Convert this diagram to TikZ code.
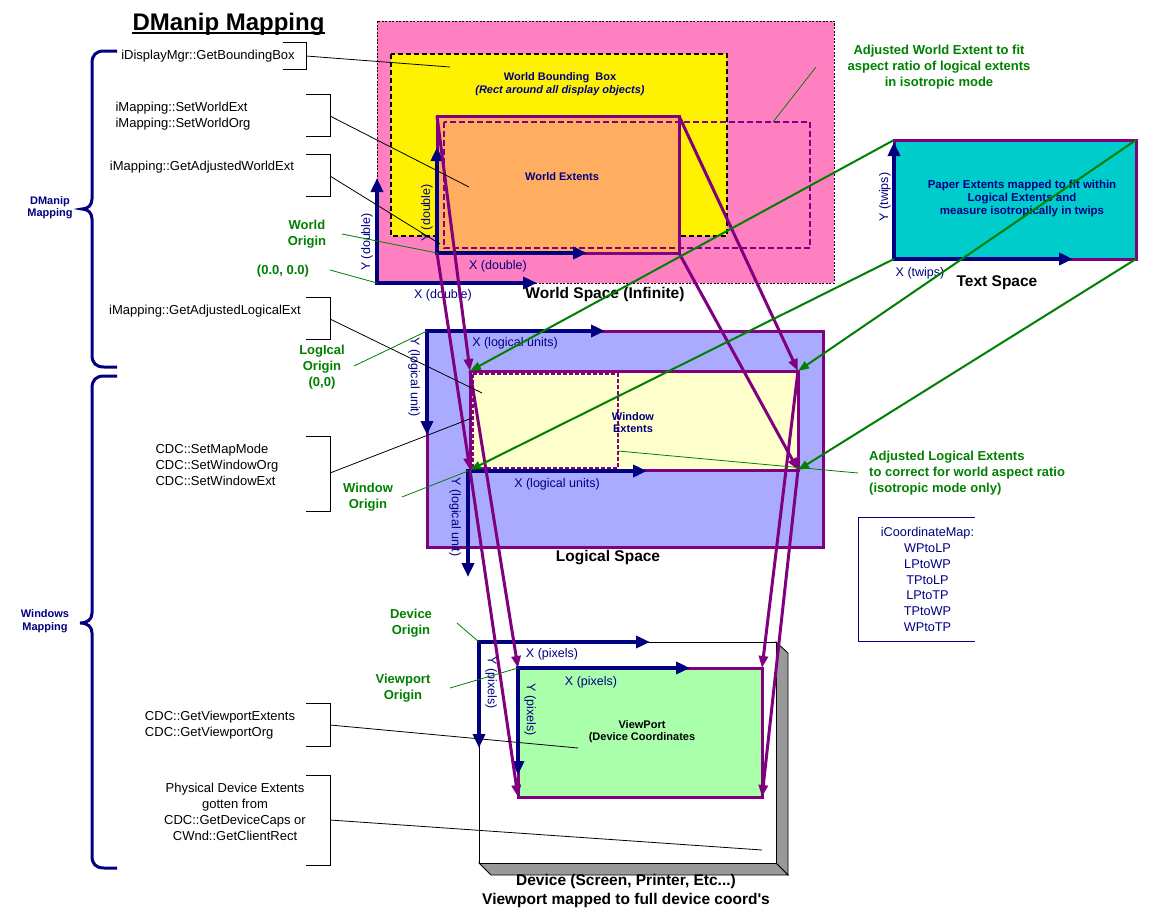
\documentclass[tikz,border=0pt]{standalone}
\usepackage{fontspec}
\setmainfont{Liberation Sans}[Ligatures=TeXOff]
\usetikzlibrary{arrows.meta}
\definecolor{navy}{RGB}{0,0,128}
\definecolor{purp}{RGB}{128,0,128}
\definecolor{grn}{RGB}{0,128,0}
\definecolor{pinkfill}{RGB}{255,128,192}
\definecolor{orangefill}{RGB}{255,173,96}
\definecolor{cyanfill}{RGB}{0,204,204}
\definecolor{lavfill}{RGB}{170,170,255}
\definecolor{ltyellow}{RGB}{255,255,204}
\definecolor{ltgreen}{RGB}{170,255,170}
\definecolor{shadowgray}{RGB}{153,153,153}
\begin{document}
\begin{tikzpicture}[x=1pt,y=-1pt,
  meth/.style={font=\fontsize{13}{16}\selectfont, inner sep=0pt, align=left},
  grnlbl/.style={font=\fontsize{13}{16}\selectfont\bfseries, text=grn, inner sep=0pt, align=center},
  navylbl/.style={font=\fontsize{11}{13}\selectfont\bfseries, text=navy, inner sep=0pt, align=center},
  blacklbl/.style={font=\fontsize{11}{12}\selectfont\bfseries, inner sep=0pt, align=center},
  axlbl/.style={font=\fontsize{12.5}{14}\selectfont, text=navy, inner sep=0pt},
  maplbl/.style={font=\fontsize{12.7}{15.8}\selectfont, text=navy, inner sep=0pt, align=center},
  spacelbl/.style={font=\fontsize{15.5}{19}\selectfont\bfseries, inner sep=0pt, align=center},
  axisarrow/.style={draw=navy, line width=4.5pt, line cap=rect, -{Triangle[length=14pt,width=12pt]}},
  maparrow/.style={draw=purp, line width=3pt, -{Triangle[length=12pt,width=9pt]}},
  grnarrow/.style={draw=grn, line width=2pt, -{Triangle[length=11pt,width=8pt]}},
  leader/.style={draw=black, line width=0.8pt},
  gleader/.style={draw=grn, line width=0.8pt},
  bracket/.style={draw=black, line width=1pt},
  bracestyle/.style={draw=navy, line width=3pt},
  boxborder/.style={draw=purp, line width=3pt},
]
\fill[white] (0,0) rectangle (1173,918);
\useasboundingbox (0,0) rectangle (1173,918);

% title
\node[font=\fontsize{24}{28}\selectfont\bfseries, inner sep=0pt, anchor=base] (title) at (228.5,30) {DManip Mapping};
\draw[line width=2.5pt] (132,33) -- (325,33);

% braces
\draw[bracestyle] (117,51) -- (104,51) .. controls (96,51) and (92,55) .. (92,63) -- (92,199) .. controls (92,205) and (88,209) .. (82,209) .. controls (88,209) and (92,213) .. (92,219) -- (92,355) .. controls (92,363) and (96,367) .. (104,367) -- (117,367);
\draw[bracestyle] (117,376) -- (104,376) .. controls (96,376) and (92,380) .. (92,388) -- (92,613) .. controls (92,619) and (88,623) .. (80,623) .. controls (88,623) and (92,627) .. (92,633) -- (92,856) .. controls (92,864) and (96,868) .. (104,868) -- (117,868);
\node[navylbl, font=\fontsize{11}{12}\selectfont\bfseries] (dml) at (50,208) {DManip\\Mapping};
\node[navylbl, font=\fontsize{11}{13}\selectfont\bfseries] (wml) at (45,621) {Windows\\Mapping};

% ---------- World space ----------
\coordinate (wsTL) at (377,21);
\coordinate (wsBR) at (834,283);
\draw[fill=pinkfill, dash pattern=on 2pt off 1.5pt, line width=0.7pt] (wsTL) rectangle (wsBR);
\draw[fill=yellow, dash pattern=on 5pt off 3pt, line width=2pt] (391,54) rectangle (727,236);
\coordinate (wTL) at (437,116);
\coordinate (wTR) at (679,116);
\coordinate (wBL) at (437,253);
\coordinate (wBR) at (679,253);
\draw[fill=orangefill, boxborder] (wTL) rectangle (wBR);
\draw[purp, line width=2pt, dash pattern=on 6pt off 3pt] (444,122) rectangle (810,248);
\node[navylbl] (wbb) at (560,84.5) {World Bounding\ \ Box\\\textit{(Rect around all display objects)}};
\node[navylbl] (wext) at (562,177) {World Extents};
\coordinate (wo1) at (377,283);
\coordinate (wo1x) at (537,283);
\coordinate (wo1y) at (377,178);
\draw[axisarrow] (wo1) -- (wo1x);
\draw[axisarrow] (wo1) -- (wo1y);
\coordinate (wo2x) at (587,253);
\coordinate (wo2y) at (437,147);
\draw[axisarrow] (wBL) -- (wo2x);
\draw[axisarrow] (wBL) -- (wo2y);
\node[axlbl, rotate=90] (ly1) at (367,242) {Y (double)};
\node[axlbl] (lx1) at (443,295) {X (double)};
\node[axlbl, rotate=90] (ly2) at (427,213) {Y (double)};
\node[axlbl] (lx2) at (498,266) {X (double)};
\node[spacelbl] (wsl) at (605,294) {World Space (Infinite)};

% ---------- Text space ----------
\coordinate (tTL) at (894,140);
\coordinate (tTR) at (1136,140);
\coordinate (tBL) at (894,259);
\coordinate (tBR) at (1136,259);
\draw[fill=cyanfill, boxborder] (tTL) rectangle (tBR);
\coordinate (tox) at (1073,259);
\coordinate (toy) at (894,142);
\draw[axisarrow] (tBL) -- (tox);
\draw[axisarrow] (tBL) -- (toy);
\node[navylbl, font=\fontsize{11.5}{13}\selectfont\bfseries] (pext) at (1022,199) {Paper Extents mapped to fit within\\Logical Extents and\\measure isotropically in twips};
\node[axlbl, rotate=90] (lyt) at (885,197) {Y (twips)};
\node[axlbl] (lxt) at (920,273) {X (twips)};
\node[spacelbl] (tsl) at (997,283) {Text Space};

% ---------- Logical space ----------
\coordinate (lsTL) at (427,331);
\coordinate (lsBR) at (823,547);
\draw[fill=lavfill, boxborder] (lsTL) rectangle (lsBR);
\coordinate (lTL) at (470,371);
\coordinate (lTR) at (798,371);
\coordinate (lBL) at (470,470);
\coordinate (lBR) at (798,470);
\draw[fill=ltyellow, boxborder] (lTL) rectangle (lBR);
\draw[purp, line width=2pt, dash pattern=on 4pt off 2pt] (473,374) rectangle (618,468);
\node[navylbl, font=\fontsize{11}{12}\selectfont\bfseries] (wex) at (633,423) {Window\\Extents};
\coordinate (lsx) at (605,331);
\coordinate (lsy) at (427,435);
\draw[axisarrow] (lsTL) -- (lsx);
\draw[axisarrow] (lsTL) -- (lsy);
\coordinate (lwo) at (468,471);
\coordinate (lwx) at (647,471);
\coordinate (lwy) at (468,577);
\draw[axisarrow] (lwo) -- (lwx);
\draw[axisarrow] (lwo) -- (lwy);
\node[axlbl] (llx1) at (515,343) {X (logical units)};
\node[axlbl, rotate=-90] (lly1) at (414,377) {Y (logical unit)};
\node[axlbl] (llx2) at (557,484) {X (logical units)};
\node[axlbl, rotate=-90] (lly2) at (455,517) {Y (logical unit)};
\node[spacelbl] (lsl) at (608,558) {Logical Space};

% ---------- Device ----------
\filldraw[fill=shadowgray, draw=black, line width=0.8pt] (776,642) -- (788,653) -- (788,875) -- (776,863) -- cycle;
\filldraw[fill=shadowgray, draw=black, line width=0.8pt] (479,863) -- (491,875) -- (788,875) -- (776,863) -- cycle;
\coordinate (dTL) at (479,642);
\coordinate (dBR) at (776,863);
\draw[fill=white, line width=0.8pt] (dTL) rectangle (dBR);
\coordinate (vTL) at (518,668);
\coordinate (vTR) at (762,668);
\coordinate (vBL) at (518,797);
\coordinate (vBR) at (762,797);
\draw[fill=ltgreen, boxborder] (vTL) rectangle (vBR);
\coordinate (dx) at (650,642);
\coordinate (dy) at (479,748);
\draw[axisarrow] (dTL) -- (dx);
\draw[axisarrow] (dTL) -- (dy);
\coordinate (vx) at (690,668);
\coordinate (vy) at (518,775);
\draw[axisarrow] (vTL) -- (vx);
\draw[axisarrow] (vTL) -- (vy);
\node[axlbl] (ldx) at (552,654) {X (pixels)};
\node[axlbl, rotate=-90] (ldy) at (491,683) {Y (pixels)};
\node[axlbl] (lvx) at (591,682) {X (pixels)};
\node[axlbl, rotate=-90] (lvy) at (530,710) {Y (pixels)};
\node[blacklbl] (vpl) at (642,732) {ViewPort\\(Device Coordinates};
\node[spacelbl] (dsl) at (626,891) {Device (Screen, Printer, Etc...)\\Viewport mapped to full device coord's};

% ---------- mapping arrows ----------
\draw[maparrow] (wTL) -- (lTL);
\draw[maparrow] (wBL) -- (lBL);
\draw[maparrow] (wTR) -- (lTR);
\draw[maparrow] (wBR) -- (lBR);
\draw[maparrow] (lTL) -- (vTL);
\draw[maparrow] (lBL) -- (vBL);
\draw[maparrow] (lTR) -- (vTR);
\draw[maparrow] (lBR) -- (vBR);
\draw[grnarrow] (tTL) -- (lTL);
\draw[grnarrow] (tBL) -- (lBL);
\draw[grnarrow] (tTR) -- (lTR);
\draw[grnarrow] (tBR) -- (lBR);

% ---------- green annotations ----------
\node[grnlbl] (worg) at (307,234) {World\\Origin};
\node[grnlbl] (w00) at (283,271) {(0.0, 0.0)};
\node[grnlbl] (lorg) at (322,367) {LogIcal\\Origin\\(0,0)};
\node[grnlbl] (winorg) at (368,497) {Window\\Origin};
\node[grnlbl] (dorg) at (411,623) {Device\\Origin};
\node[grnlbl] (vorg) at (403,688) {Viewport\\Origin};
\node[grnlbl] (adjw) at (939,67) {Adjusted World Extent to fit\\aspect ratio of logical extents\\in isotropic mode};
\node[grnlbl, align=left, anchor=west] (adjl) at (869,473) {Adjusted Logical Extents\\to correct for world aspect ratio\\(isotropic mode only)};
\coordinate (g1a) at (342,234); \coordinate (g1b) at (437,253);
\coordinate (g2a) at (330,270); \coordinate (g2b) at (377,283);
\coordinate (g3a) at (816,67);  \coordinate (g3b) at (773,122);
\coordinate (g4a) at (354,366); \coordinate (g4b) at (427,331);
\coordinate (g5a) at (402,497); \coordinate (g5b) at (468,471);
\coordinate (g6a) at (618,451); \coordinate (g6b) at (858,473);
\coordinate (g7a) at (457,623); \coordinate (g7b) at (479,642);
\coordinate (g8a) at (450,688); \coordinate (g8b) at (518,668);
\draw[gleader] (g1a) -- (g1b);
\draw[gleader] (g2a) -- (g2b);
\draw[gleader] (g3a) -- (g3b);
\draw[gleader] (g4a) -- (g4b);
\draw[gleader] (g5a) -- (g5b);
\draw[gleader] (g6a) -- (g6b);
\draw[gleader] (g7a) -- (g7b);
\draw[gleader] (g8a) -- (g8b);

% ---------- method labels ----------
\node[meth] (m1) at (208,56) {iDisplayMgr::GetBoundingBox};
\node[meth] (m2) at (183,116) {iMapping::SetWorldExt\\iMapping::SetWorldOrg};
\node[meth] (m3) at (202,167) {iMapping::GetAdjustedWorldExt};
\node[meth] (m4) at (205,311) {iMapping::GetAdjustedLogicalExt};
\node[meth] (m5) at (217,465) {CDC::SetMapMode\\CDC::SetWindowOrg\\CDC::SetWindowExt};
\node[meth] (m6) at (220,725) {CDC::GetViewportExtents\\CDC::GetViewportOrg};
\node[meth, align=center] (m7) at (235,812) {Physical Device Extents\\gotten from\\CDC::GetDeviceCaps or\\CWnd::GetClientRect};

\draw[bracket] (283,42) -- (306,42) -- (306,69) -- (283,69);
\draw[bracket] (306,94) -- (330,94) -- (330,136) -- (306,136);
\draw[bracket] (306,154) -- (330,154) -- (330,196) -- (306,196);
\draw[bracket] (306,297) -- (330,297) -- (330,339) -- (306,339);
\draw[bracket] (306,436) -- (330,436) -- (330,511) -- (306,511);
\draw[bracket] (306,703) -- (330,703) -- (330,746) -- (306,746);
\draw[bracket] (306,775) -- (330,775) -- (330,865) -- (306,865);

\coordinate (b1a) at (306,56);  \coordinate (b1b) at (450,67);
\coordinate (b2a) at (330,116); \coordinate (b2b) at (469,187);
\coordinate (b3a) at (330,176); \coordinate (b3b) at (440,244);
\coordinate (b4a) at (330,319); \coordinate (b4b) at (482,393);
\coordinate (b5a) at (330,473); \coordinate (b5b) at (472,418);
\coordinate (b6a) at (330,725); \coordinate (b6b) at (578,748);
\coordinate (b7a) at (330,820); \coordinate (b7b) at (762,850);
\draw[leader] (b1a) -- (b1b);
\draw[leader] (b2a) -- (b2b);
\draw[leader] (b3a) -- (b3b);
\draw[leader] (b4a) -- (b4b);
\draw[leader] (b5a) -- (b5b);
\draw[leader] (b6a) -- (b6b);
\draw[leader] (b7a) -- (b7b);

% ---------- iCoordinateMap ----------
\draw[navy, line width=1pt] (975,517) -- (858,517) -- (858,641) -- (975,641);
\node[maplbl] (cmap) at (927.5,579.5) {iCoordinateMap:\\WPtoLP\\LPtoWP\\TPtoLP\\LPtoTP\\TPtoWP\\WPtoTP};
\end{tikzpicture}
\end{document}
